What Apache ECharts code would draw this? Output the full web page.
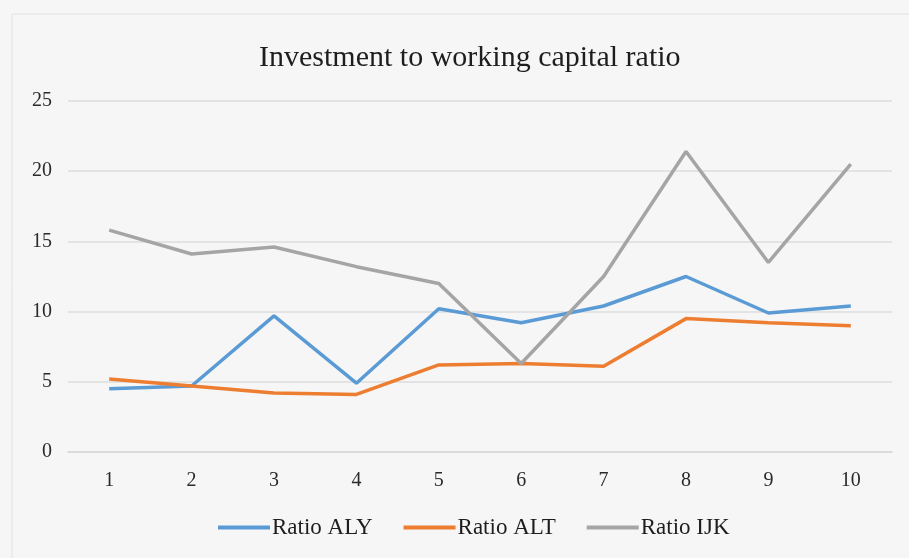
<!DOCTYPE html>
<html>
<head>
<meta charset="utf-8">
<style>
  html, body { margin: 0; padding: 0; background: #f6f6f6; }
  #chart { width: 909px; height: 558px; }
</style>
<script src="https://cdn.jsdelivr.net/npm/echarts@6/dist/echarts.min.js"></script>
</head>
<body>
<div id="chart"></div>
<script>
// Periods on the horizontal axis
var periods = ['1', '2', '3', '4', '5', '6', '7', '8', '9', '10'];

// Investment to working capital ratio per company
var ratioALY = [4.5, 4.7, 9.7, 4.9, 10.2, 9.2, 10.4, 12.5, 9.9, 10.4];
var ratioALT = [5.2, 4.7, 4.2, 4.1, 6.2, 6.3, 6.1, 9.5, 9.2, 9.0];
var ratioIJK = [15.8, 14.1, 14.6, 13.2, 12.0, 6.3, 12.5, 21.4, 13.5, 20.5];

var seriesNames = ['Ratio ALY', 'Ratio ALT', 'Ratio IJK'];
var seriesColors = ['#5b9bd5', '#ed7d31', '#a5a5a5'];

var serif = '"Liberation Serif", "DejaVu Serif", serif';

var chart = echarts.init(document.getElementById('chart'));

function lineSeries(name, data, color) {
  return {
    name: name,
    type: 'line',
    data: data,
    symbol: 'none',
    smooth: false,
    lineStyle: { color: color, width: 3.5 },
    itemStyle: { color: color }
  };
}

chart.setOption({
  backgroundColor: '#f6f6f6',
  animation: false,
  title: {
    text: 'Investment to working capital ratio',
    left: 254,
    top: 38,
    textStyle: { fontFamily: serif, fontSize: 30, fontWeight: 'normal', color: '#1e1e1e' }
  },
  graphic: [{
    type: 'rect',
    shape: { x: 12, y: 14, width: 905, height: 560 },
    style: { fill: 'none', stroke: '#e2e2e2', lineWidth: 1 },
    silent: true
  }],
  legend: {
    data: seriesNames,
    bottom: 14,
    left: 213,
    icon: 'rect',
    itemWidth: 52,
    itemHeight: 4,
    itemGap: 31,
    textStyle: { fontFamily: serif, fontSize: 23, color: '#1e1e1e', padding: [0, 0, 0, -3] }
  },
  grid: { left: 68, right: 17, top: 101, bottom: 106 },
  xAxis: {
    type: 'category',
    data: periods,
    boundaryGap: true,
    axisLine: { show: true, lineStyle: { color: '#d9d9d9', width: 1.5 } },
    axisTick: { show: false },
    axisLabel: { fontFamily: serif, fontSize: 20, color: '#2a2a2a', margin: 19 }
  },
  yAxis: {
    type: 'value',
    min: 0,
    max: 25,
    interval: 5,
    axisLine: { show: false },
    axisTick: { show: false },
    axisLabel: { fontFamily: serif, fontSize: 20, color: '#2a2a2a', margin: 16 },
    splitLine: { lineStyle: { color: '#dcdcdc', width: 1.5 } }
  },
  series: [
    lineSeries(seriesNames[0], ratioALY, seriesColors[0]),
    lineSeries(seriesNames[1], ratioALT, seriesColors[1]),
    lineSeries(seriesNames[2], ratioIJK, seriesColors[2])
  ]
});
</script>
</body>
</html>
